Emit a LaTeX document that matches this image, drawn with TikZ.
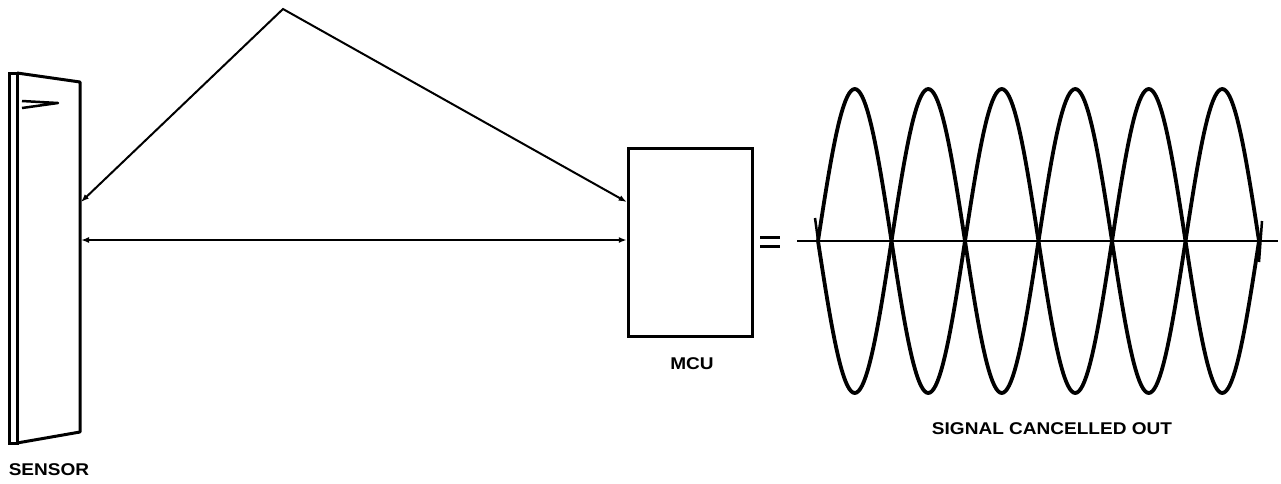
\documentclass[tikz,border=0pt]{standalone}
\usepackage{fontspec}
\newfontfamily\labelfont[FakeStretch=1.12]{Liberation Sans}
\usetikzlibrary{arrows.meta, positioning}

\tikzset{
  caption/.style={font=\labelfont\bfseries\fontsize{17}{20}\selectfont, inner sep=0pt},
  link/.style={line width=2pt, {Latex[length=8pt,width=6pt]}-{Latex[length=8pt,width=6pt]}},
  wave/.style={line width=3.8pt, line join=round},
}

\begin{document}
\begin{tikzpicture}[x=1pt, y=-1pt]
    \useasboundingbox (0,0) rectangle (1281,483);

    % Sensor plate
    \draw[line width=3pt] (9,73) rectangle (17,443);
    \draw[line width=3pt, line join=round] (17,73) -- (80,82) -- (80,432) -- (17,443);
    \draw[line width=2.5pt, line join=round] (22,101) -- (58,103) -- (22,108);
    \coordinate (sens1) at (81,202);
    \coordinate (sens2) at (81,240);
    \node[caption] (sensor) at (49,470) {SENSOR};

    % MCU
    \node[draw, line width=3.5pt, minimum width=124pt, minimum height=188pt] (mcu) at (690.5,242.5) {};
    \node[caption] (mculabel) at (692,364) {MCU};

    % Signal paths
    \coordinate (apex) at (283,9);
    \draw[link] (sens1) -- (apex) -- (mcu.west |- sens1);
    \draw[link] (sens2) -- (mcu.west |- sens2);

    % Equals
    \draw[line width=3pt] (760,237) -- (780,237);
    \draw[line width=3pt] (760,246) -- (780,246);

    % Cancelled signal
    \coordinate (axisL) at (797,241);
    \coordinate (axisR) at (1278,241);
    \draw[line width=2pt] (axisL) -- (axisR);
    \draw[wave] plot[domain=0:441, samples=241] ({818+\x}, {241-152*sin(2.44898*\x)});
    \draw[wave] plot[domain=0:441, samples=241] ({818+\x}, {241+152*sin(2.44898*\x)});
    \draw[line width=2.5pt] (815,218) -- (821,262);
    \draw[line width=2.5pt] (1262,221) -- (1259,262);
    \node[caption] (result) at (1052,429) {SIGNAL CANCELLED OUT};
\end{tikzpicture}
\end{document}
